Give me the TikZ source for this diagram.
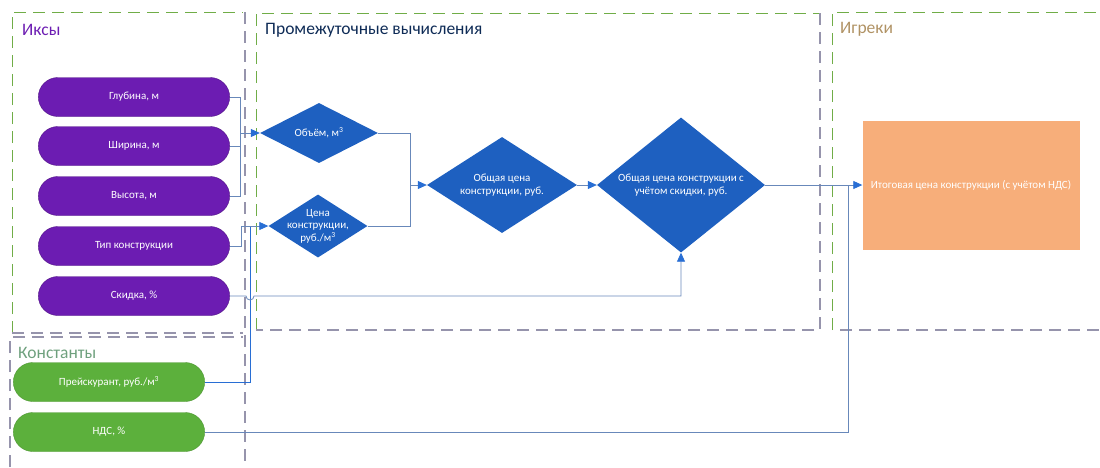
\documentclass[tikz,border=0pt]{standalone}
\usepackage{fontspec}
\setmainfont{Carlito}
\usetikzlibrary{shapes.geometric,shapes.misc,arrows.meta}
\definecolor{pcol}{RGB}{108,28,178}
\definecolor{gcol}{RGB}{92,176,60}
\definecolor{bcol}{RGB}{30,96,192}
\definecolor{ocol}{RGB}{247,174,122}
\definecolor{lcol}{RGB}{104,136,186}
\definecolor{acol}{RGB}{40,110,212}
\definecolor{grgreen}{RGB}{112,173,71}
\definecolor{grgrey}{RGB}{150,148,172}
\tikzset{every picture/.style={x=1pt,y=-1pt}}
\tikzset{xin/.style={rounded rectangle,fill=pcol,draw=pcol!75!black,minimum width=198,minimum height=39,text=white,font=\fontsize{11}{13}\selectfont}}
\tikzset{kconst/.style={rounded rectangle,fill=gcol,draw=gcol!85!black,minimum width=198,minimum height=39,text=white,font=\fontsize{11}{13}\selectfont}}
\tikzset{calc/.style={diamond,fill=bcol,inner sep=0pt}}
\tikzset{calctext/.style={text=white,align=center,font=\fontsize{11}{12.5}\selectfont}}
\tikzset{res/.style={rectangle,fill=ocol,minimum width=217,minimum height=129,text=white,font=\fontsize{11}{13}\selectfont}}
\tikzset{conn/.style={draw=lcol,line width=0.8pt}}
\tikzset{arr/.style={conn,-{Triangle[length=9pt,width=8pt,color=acol]}}}
\tikzset{grpg/.style={draw=grgreen,line width=0.9pt,dash pattern=on 12pt off 7pt}}
\tikzset{grpv/.style={draw=grgrey,line width=1.2pt,dash pattern=on 12pt off 7pt}}
\tikzset{gtitle/.style={anchor=west,inner sep=0pt,font=\fontsize{17.5}{20}\selectfont}}
\begin{document}
\begin{tikzpicture}
\useasboundingbox (0,0) rectangle (1100,467);

\draw [grpg] (12,333) -- (12,12) -- (243,12);
\draw [grpv] (12,333) -- (243,333);
\draw [grpv] (245,12) -- (245,467);
\draw [grpg] (256,330) -- (256,13) -- (820,13);
\draw [grpv] (820,13) -- (820,330) -- (256,330);
\draw [grpg] (832,330) -- (832,12) -- (1100,12);
\draw [grpv] (840,330) -- (1100,330);
\draw [grpv] (10,467) -- (10,337) -- (243,337);

\node [gtitle,text=pcol] (tx) at (22,30) {Иксы};
\node [gtitle,text=bcol!45!black] (tm) at (265,30) {Промежуточные вычисления};
\node [gtitle,text={rgb,255:red,176;green,146;blue,100}] (ty) at (840,29) {Игреки};
\node [gtitle,text={rgb,255:red,110;green,160;blue,125}] (tk) at (18,353) {Константы};

\node [xin] (glub) at (134,97) {Глубина, м};
\node [xin] (shir) at (134,146) {Ширина, м};
\node [xin] (vys) at (134,196) {Высота, м};
\node [xin] (tip) at (134,246) {Тип конструкции};
\node [xin] (skid) at (134,296) {Скидка, \%};
\node [kconst] (prei) at (109,382) {Прейскурант, руб./м\textsuperscript{3}};
\node [kconst] (nds) at (109,432) {НДС, \%};

\node [calc,minimum width=118,minimum height=60,label={[calctext]center:Объём, м\textsuperscript{3}}] (obj) at (319,133) {};
\node [calc,minimum width=99,minimum height=63,label={[calctext]center:{Цена\\конструкции,\\руб./м\textsuperscript{3}}}] (cena) at (318,226) {};
\node [calc,minimum width=150,minimum height=96,label={[calctext]center:{Общая цена\\конструкции, руб.}}] (obsh) at (502,185) {};
\node [calc,minimum width=168,minimum height=135,label={[calctext]center:{Общая цена конструкции с\\учётом скидки, руб.}}] (obsk) at (681,185) {};
\node [res] (itog) at (971,185) {Итоговая цена конструкции (с учётом НДС)};

\coordinate (b1) at (240,133);
\coordinate (b2) at (241,226);
\coordinate (b3) at (250,226);
\coordinate (b4) at (410,185);
\coordinate (b5) at (848,185);

\draw [conn] (glub.east) -| (b1);
\draw [conn] (shir.east) -| (b1);
\draw [conn] (vys.east) -| (b1);
\draw [arr] (b1) -- (obj.west);

\draw [conn] (tip.east) -| (b2);
\draw [conn,draw=acol] (prei.east) -| (b3);
\draw [arr] (b2) -- (cena.west);

\draw [arr] (skid.east) -- (246,296) arc[start angle=180,end angle=0,radius=4] -| (obsk.south);

\draw [conn] (obj.east) -| (b4);
\draw [conn] (cena.east) -| (b4);
\draw [arr] (b4) -- (obsh.west);
\draw [arr] (obsh.east) -- (obsk.west);

\draw [conn] (obsk.east) -- (b5);
\draw [conn] (nds.east) -| (b5);
\draw [arr] (b5) -- (itog.west);
\end{tikzpicture}
\end{document}
